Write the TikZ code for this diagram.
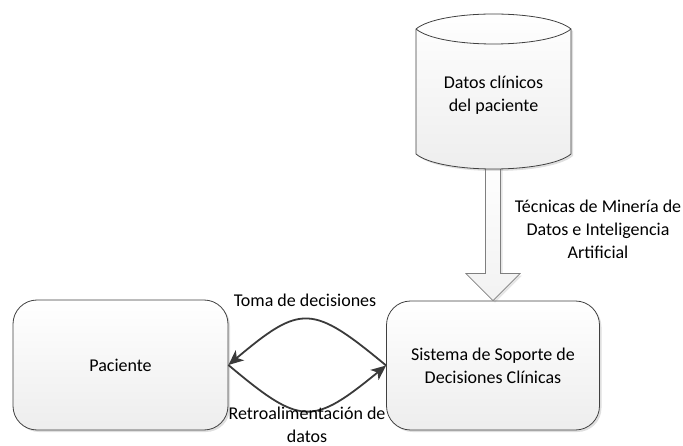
\documentclass[tikz,border=0pt]{standalone}
\usepackage{fontspec}
\setmainfont{Carlito}
\usetikzlibrary{shadows,arrows.meta,calc}
\definecolor{edgec}{HTML}{404040}
\definecolor{arrowc}{HTML}{3A3A3A}
\definecolor{blockc}{HTML}{7F7F7F}
\begin{document}
\begin{tikzpicture}[x=1pt,y=-1pt,
  font=\fontsize{18}{23}\selectfont,
  box/.style={draw=edgec, line width=0.8pt, rounded corners=24pt,
    top color=white, bottom color=gray!14, align=center,
    drop shadow={shadow xshift=2pt, shadow yshift=-2pt, opacity=0.25, fill=gray}},
  cyl/.style={draw=edgec, line width=0.8pt, top color=white, bottom color=gray!14,
    drop shadow={shadow xshift=2pt, shadow yshift=-2pt, opacity=0.25, fill=gray}},
  blockarrow/.style={draw=blockc, line width=0.8pt, top color=white, bottom color=gray!10,
    drop shadow={shadow xshift=2pt, shadow yshift=-2pt, opacity=0.2, fill=gray}},
  flow/.style={draw=arrowc, line width=1.8pt,
    -{Stealth[length=15pt,width=13pt,inset=4pt]}},
  lbl/.style={align=center, inner sep=0pt}]
\useasboundingbox (0,0) rectangle (683,446);

% boxes
\node[box, minimum width=215pt, minimum height=130pt] (pac) at (120.5,365) {Paciente};
\node[box, minimum width=213pt, minimum height=129pt] (sis) at (493,365.5)
  {Sistema de Soporte de\\Decisiones Clínicas};

% block arrow from the database to the system
\coordinate (dbb) at (493,150);
\path[blockarrow] ($(dbb)+(-7.5,0)$) -- ($(sis.north)+(-7.5,-27)$) -- ($(sis.north)+(-27,-27)$)
  -- (sis.north) -- ($(sis.north)+(27,-27)$) -- ($(sis.north)+(7.5,-27)$)
  -- ($(dbb)+(7.5,0)$) -- cycle;

% cylinder (database)
\path[cyl] (416,29) -- (416,154) .. controls (440,174) and (547,174) .. (571,154)
  -- (571,29) .. controls (547,9) and (440,9) .. (416,29) -- cycle;
\draw[edgec, line width=0.8pt] (416,29) .. controls (440,49) and (547,49) .. (571,29);
\node[lbl] (db) at (493.5,95) {Datos clínicos\\del paciente};

% curved connectors
\draw[flow] (sis.west) .. controls (312,304) and (301,304) .. (pac.east);
\draw[flow] (pac.east) .. controls (301,426) and (312,426) .. (sis.west);

% labels
\node[lbl] (lt) at (305,300) {Toma de decisiones};
\node[lbl] (lr) at (307,425) {Retroalimentación de\\datos};
\node[lbl] (lm) at (598,229) {Técnicas de Minería de\\Datos e Inteligencia\\Artificial};
\end{tikzpicture}
\end{document}
